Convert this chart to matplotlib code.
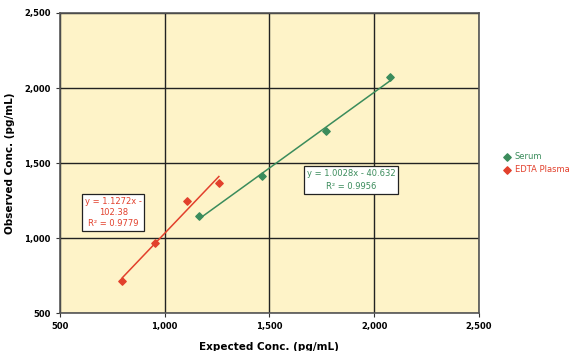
import numpy as np
import matplotlib
matplotlib.use('Agg')
import matplotlib.pyplot as plt

OUTPUT_IMAGE = 'out.png'

# Data
serum_expected = [1165, 1464, 1771, 2075]
serum_observed = [1149, 1413, 1713, 2071]
edta_expected = [799, 952, 1106, 1259]
edta_observed = [713, 967, 1245, 1369]

serum_eq = 'y = 1.0028x - 40.632\nR² = 0.9956'
edta_eq = 'y = 1.1272x -\n102.38\nR² = 0.9779'

GREEN = '#3b8c5c'
RED = '#e2402c'
BG = '#fef3c8'

plt.rcParams['font.family'] = ['DejaVu Sans']

fig = plt.figure(figsize=(5.75, 3.51), dpi=100)
ax = fig.add_axes([0.104, 0.108, 0.729, 0.855])
ax.set_facecolor(BG)

# Scatter points
ax.scatter(serum_expected, serum_observed, marker='D', s=14, color=GREEN, label='Serum', zorder=3)
ax.scatter(edta_expected, edta_observed, marker='D', s=14, color=RED, label='EDTA Plasma', zorder=3)

# Linear trend lines
for xs, ys, c in [(serum_expected, serum_observed, GREEN), (edta_expected, edta_observed, RED)]:
    m, b = np.polyfit(xs, ys, 1)
    xx = np.array([min(xs), max(xs)])
    ax.plot(xx, m * xx + b, color=c, lw=1.1, zorder=2)

ax.set_xlim(500, 2500)
ax.set_ylim(500, 2500)
ticks = [500, 1000, 1500, 2000, 2500]
ax.set_xticks(ticks)
ax.set_yticks(ticks)
ax.set_xticklabels([f'{t:,}' for t in ticks])
ax.set_yticklabels([f'{t:,}' for t in ticks])
ax.tick_params(labelsize=6, length=3, width=0.8, color='#333333')
for lbl in ax.get_xticklabels() + ax.get_yticklabels():
    lbl.set_fontweight('bold')

ax.grid(True, color='#222222', lw=1.0)
ax.set_axisbelow(True)
for s in ax.spines.values():
    s.set_color('#555555')
    s.set_linewidth(1.2)

ax.set_xlabel('Expected Conc. (pg/mL)', fontsize=7.5, fontweight='bold', labelpad=8)
ax.set_ylabel('Observed Conc. (pg/mL)', fontsize=7.5, fontweight='bold', labelpad=7)

# Equation boxes
ax.text(1890, 1387, serum_eq, color=GREEN, fontsize=6, ha='center', va='center',
        linespacing=1.6, bbox=dict(boxstyle='square,pad=0.3', fc='white', ec='#222222', lw=0.9))
ax.text(755, 1170, edta_eq, color=RED, fontsize=6, ha='center', va='center',
        linespacing=1.3, bbox=dict(boxstyle='square,pad=0.3', fc='white', ec='#222222', lw=0.9))

leg = ax.legend(loc='center left', bbox_to_anchor=(1.04, 0.5), frameon=False,
                fontsize=6, handletextpad=0.4, labelspacing=0.5, handlelength=1.0)
for txt, c in zip(leg.get_texts(), [GREEN, RED]):
    txt.set_color(c)

plt.savefig(OUTPUT_IMAGE, dpi=100)
plt.close()
